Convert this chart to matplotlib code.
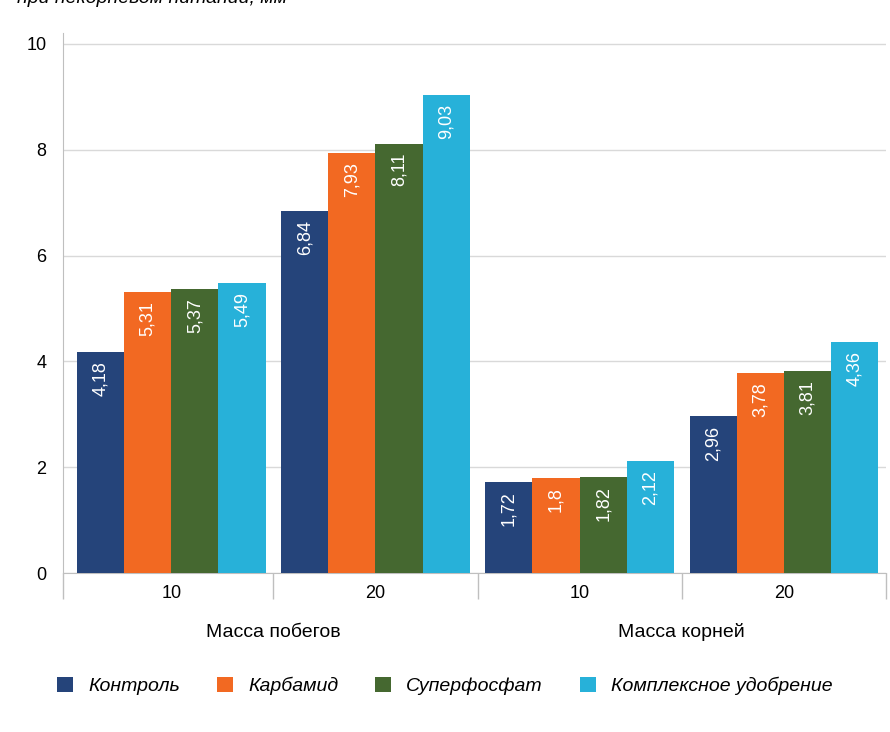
import numpy as np
import matplotlib
matplotlib.use("Agg")
import matplotlib.pyplot as plt
from matplotlib.patches import Patch
from matplotlib.transforms import blended_transform_factory

plt.rcParams['font.family'] = ['Liberation Sans', 'DejaVu Sans']

# данные
groups = ['10', '20', '10', '20']
group_titles = ['Масса побегов', 'Масса корней']
series_names = ['Контроль', 'Карбамид', 'Суперфосфат', 'Комплексное удобрение']
kontrol = [4.18, 6.84, 1.72, 2.96]
karbamid = [5.31, 7.93, 1.80, 3.78]
superfosfat = [5.37, 8.11, 1.82, 3.81]
kompleks = [5.49, 9.03, 2.12, 4.36]
y_ticks = [0, 2, 4, 6, 8, 10]

colors = ['#25447A', '#F26922', '#456830', '#27B1D9']
series = [kontrol, karbamid, superfosfat, kompleks]

fig = plt.figure(figsize=(8.9, 7.32), dpi=100)
ax = fig.add_axes([63 / 890, 1 - 573 / 732, 823 / 890, (573 - 33.4) / 732])

x = np.arange(len(groups))
w = 0.231
for i, (vals, col) in enumerate(zip(series, colors)):
    pos = x + (i - 1.5) * w
    ax.bar(pos, vals, width=w, color=col, zorder=3)
    for p, v in zip(pos, vals):
        lbl = f"{v:g}".replace('.', ',')
        ax.text(p, v - 0.17, lbl, rotation=90, ha='center', va='top',
                color='white', fontsize=13, zorder=4)

ax.set_xlim(-0.53, 3.5)
ax.set_ylim(0, 10.2)
ax.set_yticks(y_ticks)
ax.set_yticklabels([str(t) for t in y_ticks], fontsize=13)
ax.tick_params(axis='y', length=0, pad=12)
ax.grid(axis='y', color='#D9D9D9', linewidth=1, zorder=0)

ax.set_xticks(x)
ax.set_xticklabels(groups, fontsize=13)
ax.tick_params(axis='x', which='major', length=0, pad=9)
ax.set_xticks([-0.53, 0.5, 1.5, 2.5, 3.5], minor=True)
ax.tick_params(axis='x', which='minor', length=19, color='#BFBFBF', width=1)

for s in ['top', 'right']:
    ax.spines[s].set_visible(False)
ax.spines['left'].set_color('#BFBFBF')
ax.spines['bottom'].set_color('#BFBFBF')

trans = blended_transform_factory(ax.transData, ax.transAxes)
ax.text(0.5, -0.118, group_titles[0], transform=trans, ha='center', va='baseline', fontsize=14)
ax.text(2.5, -0.118, group_titles[1], transform=trans, ha='center', va='baseline', fontsize=14)

# обрезанная подпись сверху
fig.text(17 / 890, 1 - 3 / 732, 'при некорневом питании, мм', ha='left', va='baseline',
         fontsize=14, style='italic')

handles = [Patch(facecolor=c) for c in colors]
fig.legend(handles, series_names, loc='center', bbox_to_anchor=(0.5, 1 - 686 / 732),
           ncol=4, frameon=False, handlelength=0.8, handleheight=0.8,
           columnspacing=1.9, handletextpad=0.8, prop={'size': 14, 'style': 'italic'})

fig.savefig('out.png', dpi=100)
